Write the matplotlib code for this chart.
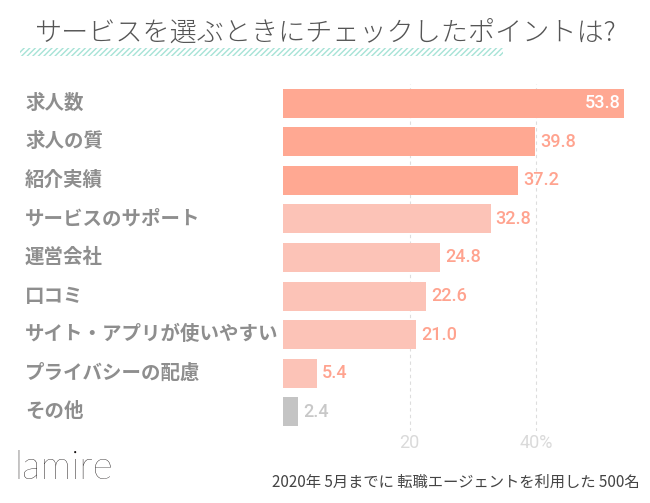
import matplotlib
matplotlib.use("Agg")
from matplotlib import pyplot as plt
from matplotlib.patches import Rectangle

plt.rcParams['font.family'] = ['Noto Sans CJK JP', 'DejaVu Sans']

categories = ['求人数', '求人の質', '紹介実績', 'サービスのサポート', '運営会社',
              '口コミ', 'サイト・アプリが使いやすい', 'プライバシーの配慮', 'その他']
values = [53.8, 39.8, 37.2, 32.8, 24.8, 22.6, 21.0, 5.4, 2.4]
value_labels = ['53.8', '39.8', '37.2', '32.8', '24.8', '22.6', '21.0', '5.4', '2.4']
tick_values = [20, 40]
tick_labels = ['20', '40%']

dark = '#FFA892'
light = '#FCC3B7'
grey = '#C4C4C4'
bar_colors = [dark] * 3 + [light] * 5 + [grey]
label_colors = ['white'] + ['#FFA38F'] * 7 + ['#C8C8C8']

W, H = 650, 503
fig = plt.figure(figsize=(W / 100, H / 100), dpi=100)
fig.patch.set_facecolor('white')

# axes in pixel coordinates
left, right, top, bottom = 283, 640, 84, 431
ax = fig.add_axes([left / W, 1 - bottom / H, (right - left) / W, (bottom - top) / H])

y = list(range(len(categories)))
ax.barh(y, values, height=0.75, color=bar_colors, zorder=2)
ax.set_ylim(len(categories) - 0.5, -0.5)
ax.set_xlim(0, 56.4)

for i, (v, s) in enumerate(zip(values, value_labels)):
    if i == 0:
        ax.text(v - 0.5, i, s, ha='right', va='center', color=label_colors[i],
                fontsize=13, family=['Roboto', 'DejaVu Sans'], fontweight='medium', zorder=3)
    else:
        ax.text(v + 0.8, i, s, ha='left', va='center', color=label_colors[i],
                fontsize=13, family=['Roboto', 'DejaVu Sans'], fontweight='medium', zorder=3)

for tv in tick_values:
    ax.axvline(tv, color='#DDDDDD', linestyle=(0, (3, 3)), linewidth=0.8, zorder=1)

ax.set_xticks(tick_values)
ax.set_xticklabels(tick_labels, fontsize=13, color='#DADADA', family=['Roboto', 'DejaVu Sans'])
ax.tick_params(axis='x', length=0, pad=2)
ax.set_yticks(y)
ax.set_yticklabels([])
ax.tick_params(axis='y', length=0)
for sp in ax.spines.values():
    sp.set_visible(False)

# category labels at left
for i, c in enumerate(categories):
    ax.text(-258 / 6.33, i, c, ha='left', va='center', color='#8E8E8E',
            fontsize=14, fontweight='bold', transform=ax.transData, clip_on=False)

# title
fig.text(326 / W, 1 - 33 / H, 'サービスを選ぶときにチェックしたポイントは?', ha='center', va='center',
         fontsize=19.5, color='#555555', fontweight='light')
# hatched underline
fig.patches.append(Rectangle((20 / W, 1 - 56 / H), 483 / W, 8 / H, transform=fig.transFigure,
                             facecolor='white', edgecolor='#A6E3D6', hatch='//////', linewidth=0))

# logo
fig.text(14 / W, 1 - 468 / H, 'lamire', ha='left', va='center', fontsize=28,
         color='#110C0C', family=['Lato', 'DejaVu Sans'], fontweight='light')
# note
fig.text(640 / W, 1 - 482 / H, '2020年 5月までに 転職エージェントを利用した 500名', ha='right',
         va='center', fontsize=11, color='#444444')

fig.savefig('out.png', dpi=100, facecolor='white')
